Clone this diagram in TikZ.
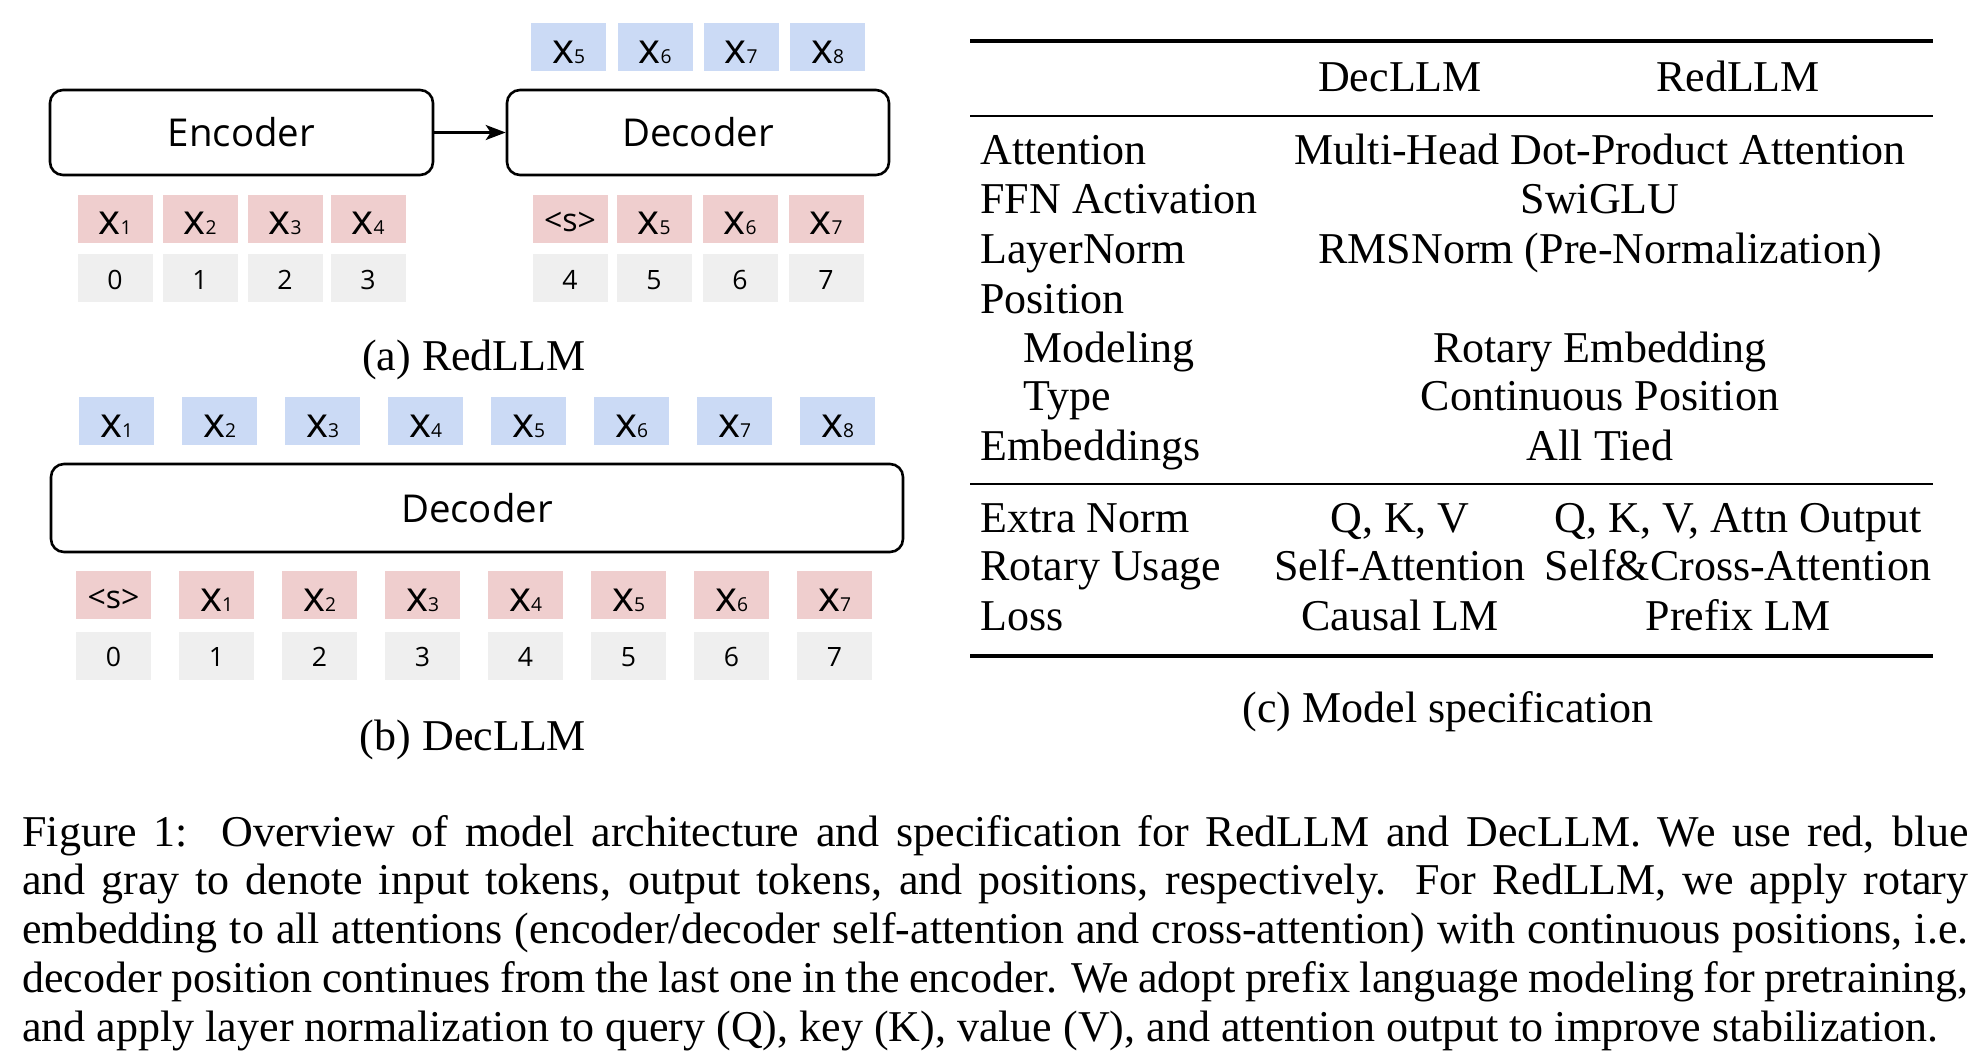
\documentclass[tikz,border=0pt]{standalone}
\usepackage{fontspec}
\setmainfont{Liberation Serif}
\newfontfamily\gsans{Open Sans}
\usepackage{tikz}
\usetikzlibrary{arrows.meta}
\usetikzlibrary{positioning}

\definecolor{tokred}{RGB}{239,206,206}
\definecolor{tokblue}{RGB}{203,218,245}
\definecolor{tokgray}{RGB}{239,239,239}

\newcommand{\xtok}[1]{{\fontsize{21}{21}\selectfont x}{\fontsize{9.6}{9.6}\selectfont #1}}
\newcommand{\bos}{{\fontsize{16}{16}\selectfont \textless{}s\textgreater}}

\tikzset{
	tok/.style={inner sep=0pt, minimum width=37.5pt, minimum height=24pt, font=\gsans, text depth=0pt},
	tokin/.style={tok, fill=tokred, text height=16pt},
	tokout/.style={tok, fill=tokblue, text height=16pt},
	tokpos/.style={tok, fill=tokgray, font=\gsans\fontsize{13.3}{13.3}\selectfont, text height=11pt},
	block/.style={draw, line width=1.3pt, rounded corners=6.5pt, font=\gsans\fontsize{19.2}{19.2}\selectfont},
	serif/.style={font=\fontsize{22}{24.4}\selectfont, inner sep=0pt},
	rulethick/.style={line width=1.7pt},
	rulethin/.style={line width=1.1pt},
}

\begin{document}
\begin{tikzpicture}[x=0.5pt, y=-0.5pt]
	\useasboundingbox (0,0) rectangle (1986,1056);
	
	% (a) RedLLM
	\node [block, minimum width=191.5pt, minimum height=42.5pt] (enc) at (241.5,132.5) {Encoder};
	\node [block, minimum width=191pt, minimum height=42.5pt] (dec) at (698,132.5) {Decoder};
	\draw [-{Stealth[length=10pt,width=7.5pt,inset=2.5pt]}, line width=1.3pt] (enc) -- (dec);
	
	\foreach \i/\x/\p in {1/115/0, 2/200/1, 3/285/2, 4/368/3}{
		\node [tokin] (ein\i) at (\x,218.5) {\xtok{\i}};
		\node [tokpos] (epos\p) at (\x,278) {\p};
	}
	\foreach \i/\x in {5/568.5, 6/655, 7/741, 8/827.5}{
		\node [tokout] (dout\i) at (\x,47) {\xtok{\i}};
	}
	\node [tokin, text height=13.2pt] (din4) at (570,218.5) {\bos};
	\foreach \i/\x in {5/654, 6/740, 7/826}{
		\node [tokin] (din\i) at (\x,218.5) {\xtok{\i}};
	}
	\foreach \p/\x in {4/570, 5/654, 6/740, 7/826}{
		\node [tokpos] (dpos\p) at (\x,278) {\p};
	}
	\node [serif, anchor=base] (capred) at (474,370) {(a) RedLLM};
	
	% (b) DecLLM
	\node [block, minimum width=426pt, minimum height=44pt] (bdec) at (477,508) {Decoder};
	\foreach \i in {1,...,8}{
		\node [tokout] (bout\i) at ({13.5+103*\i},421) {\xtok{\i}};
	}
	\node [tokin, text height=13.2pt] (bin0) at (113.5,595) {\bos};
	\foreach \i in {1,...,7}{
		\node [tokin] (bin\i) at ({113.5+103*\i},595) {\xtok{\i}};
	}
	\foreach \i in {0,...,7}{
		\node [tokpos] (bpos\i) at ({113.5+103*\i},655.5) {\i};
	}
	\node [serif, anchor=base] (capdec) at (473,750) {(b) DecLLM};
	
	% (c) table
	\draw [rulethick] (970,41) -- (1933,41);
	\draw [rulethin] (970,116) -- (1933,116);
	\draw [rulethin] (970,484) -- (1933,484);
	\draw [rulethick] (970,656) -- (1933,656);
	\node [serif, anchor=base] (hdec) at (1400,91) {DecLLM};
	\node [serif, anchor=base] (hred) at (1738,91) {RedLLM};
	\foreach \y/\x/\n/\v in {164/980/Attention/Multi-Head Dot-Product Attention, 213/980/FFN Activation/SwiGLU, 263/980/LayerNorm/{RMSNorm (Pre-Normalization)}, 362/1023/Modeling/Rotary Embedding, 410/1023/Type/Continuous Position, 460/980/Embeddings/All Tied}{
		\node [serif, anchor=base west] (lab\y) at (\x,\y) {\n};
		\node [serif, anchor=base] (val\y) at (1600,\y) {\v};
	}
	\node [serif, anchor=base west] (labpos) at (980,313) {Position};
	\foreach \y/\n/\d/\r in {532/Extra Norm/{Q, K, V}/{Q, K, V, Attn Output}, 580/Rotary Usage/Self-Attention/Self\&Cross-Attention, 630/Loss/Causal LM/Prefix LM}{
		\node [serif, anchor=base west] (lab\y) at (980,\y) {\n};
		\node [serif, anchor=base] (vdec\y) at (1400,\y) {\d};
		\node [serif, anchor=base] (vred\y) at (1738,\y) {\r};
	}
	\node [serif, anchor=base] (capspec) at (1448,722) {(c) Model specification};
	
	% figure caption
	\node [serif, anchor=base west, text width=973pt, align=justify] (figcap) at (22,846) {\hyphenpenalty=10000\tolerance=10000
		Figure 1:\ \ Overview of model architecture and specification for RedLLM and DecLLM. We use red, blue\linebreak
		and gray to denote input tokens, output tokens, and positions, respectively.  For RedLLM, we apply rotary\linebreak
		embedding to all attentions (encoder/decoder self-attention and cross-attention) with continuous positions, i.e.\linebreak
		decoder position continues from the last one in the encoder. We adopt prefix language modeling for pretraining,\linebreak
		and apply layer normalization to query (Q), key (K), value (V), and attention output to improve stabilization.};
	
\end{tikzpicture}
\end{document}
